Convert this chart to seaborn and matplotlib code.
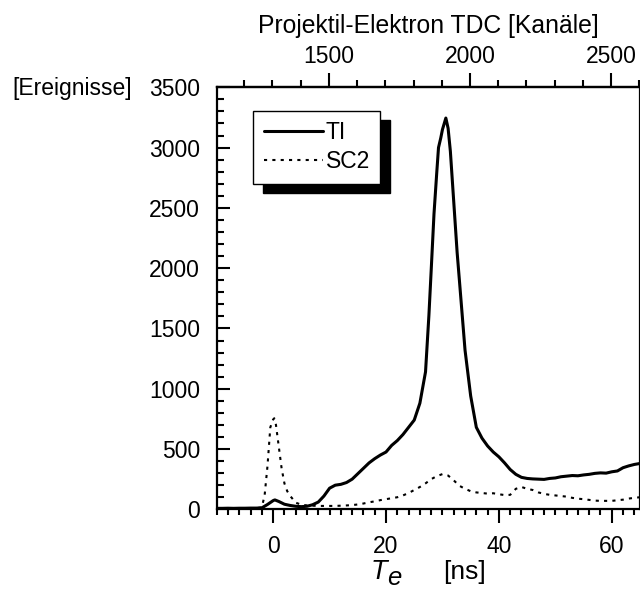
import matplotlib
matplotlib.use("Agg")
import matplotlib.pyplot as plt
from matplotlib.ticker import MultipleLocator, FixedLocator
import seaborn as sns
import pandas as pd

# Elektron-Flugzeitspektren (Ereignisse pro Kanal) gegen T_e in ns
t_ti = [-10, -9, -8, -7, -6, -5, -4, -3, -2, -1, 0, 0.3, 1, 2, 3, 4, 5, 6, 7, 8,
        9, 10, 11, 12, 13, 14, 15, 16, 17, 18, 19, 20, 21, 22, 23, 24, 25, 26,
        27, 27.6, 28, 28.5, 29, 29.3, 29.7, 30, 30.6, 31, 31.4, 32, 32.6, 33,
        33.5, 34, 35, 36, 37, 38, 39, 40, 41, 42, 43, 44, 45, 46, 47, 48, 49,
        50, 51, 52, 53, 54, 55, 56, 57, 58, 59, 60, 61, 62, 63, 64, 65]
n_ti = [8, 8, 9, 8, 9, 9, 10, 10, 12, 40, 72, 78, 65, 42, 32, 25, 22, 25, 38, 60,
        110, 175, 200, 207, 222, 250, 295, 340, 385, 420, 450, 475, 530, 570,
        620, 680, 740, 880, 1140, 1610, 1980, 2450, 2800, 3000, 3080, 3150,
        3245, 3160, 2970, 2550, 2130, 1900, 1610, 1320, 940, 680, 590, 525,
        475, 435, 385, 330, 290, 265, 256, 252, 250, 248, 256, 260, 270, 275,
        280, 278, 285, 290, 298, 302, 300, 311, 318, 345, 360, 372, 380]

t_sc2 = [-10, -9, -8, -7, -6, -5, -4, -3, -2, -1.5, -1, -0.5, 0, 0.2, 0.5, 1,
         1.5, 2, 2.5, 3, 4, 5, 6, 7, 8, 9, 10, 11, 12, 13, 14, 15, 16, 17, 18,
         19, 20, 21, 22, 23, 24, 25, 26, 27, 28, 29, 30, 31, 32, 33, 34, 35, 36,
         37, 38, 39, 40, 41, 42, 43, 44, 45, 46, 47, 48, 49, 50, 51, 52, 53, 54,
         55, 56, 57, 58, 59, 60, 61, 62, 63, 64, 65]
n_sc2 = [8, 8, 9, 8, 9, 9, 10, 10, 15, 120, 360, 680, 745, 755, 700, 520, 340,
         215, 150, 112, 55, 38, 32, 30, 28, 28, 28, 28, 30, 32, 35, 40, 48, 58,
         66, 76, 84, 92, 100, 115, 135, 160, 185, 215, 250, 275, 292, 280, 240,
         195, 170, 150, 140, 135, 130, 133, 125, 118, 120, 170, 185, 170, 160,
         140, 128, 120, 115, 110, 105, 95, 88, 84, 78, 72, 70, 70, 70, 75, 80,
         89, 95, 100]

# Kanalachse oben: Kanal = Offset + Kanäle pro ns * T_e
ch_offset = 1302.5
ch_per_ns = 20.0
top_ticks = [1500, 2000, 2500]
bottom_ticks = [0, 20, 40, 60]
left_ticks = [0, 500, 1000, 1500, 2000, 2500, 3000, 3500]

sns.set_theme(style="ticks")
plt.rcParams["font.family"] = ["Liberation Sans", "DejaVu Sans"]
plt.rcParams.update({
    "axes.linewidth": 1.6,
    "text.color": "black",
    "axes.labelcolor": "black",
    "xtick.color": "black",
    "ytick.color": "black",
    "axes.edgecolor": "black",
})

FS = 16.5
fig = plt.figure(figsize=(6.4, 5.9), dpi=100)
W, H = 640.0, 590.0
ax = fig.add_axes([216.7 / W, 1 - 509.3 / H, (640 - 216.7) / W, (509.3 - 87.3) / H])

df_ti = pd.DataFrame({"T": t_ti, "N": n_ti})
df_sc2 = pd.DataFrame({"T": t_sc2, "N": n_sc2})
sns.lineplot(data=df_ti, x="T", y="N", ax=ax, color="black", linewidth=2.2,
             estimator=None, sort=False, label="TI")
sns.lineplot(data=df_sc2, x="T", y="N", ax=ax, color="black", linewidth=1.5,
             linestyle=(0, (1.5, 2.5)), estimator=None, sort=False, label="SC2")

ax.set_xlim(-10, 65)
ax.set_ylim(0, 3500)
ax.set_xlabel("")
ax.set_ylabel("")

ax.xaxis.set_major_locator(FixedLocator(bottom_ticks))
ax.xaxis.set_minor_locator(MultipleLocator(2))
ax.yaxis.set_major_locator(FixedLocator(left_ticks))
ax.yaxis.set_minor_locator(MultipleLocator(100))

for s in ax.spines.values():
    s.set_color("black")
    s.set_linewidth(1.6)

ax.tick_params(axis="x", which="both", direction="out", bottom=True, top=False,
               width=1.5, colors="black", labelsize=FS, pad=8.5)
ax.tick_params(axis="x", which="major", length=10)
ax.tick_params(axis="x", which="minor", length=4.5)
ax.tick_params(axis="y", which="both", direction="in", left=True, right=False,
               width=1.5, colors="black", labelsize=FS, pad=12)
ax.tick_params(axis="y", which="major", length=9.5)
ax.tick_params(axis="y", which="minor", length=5)

top = ax.secondary_xaxis(
    "top",
    functions=(lambda t: ch_offset + ch_per_ns * t,
               lambda c: (c - ch_offset) / ch_per_ns),
)
top.xaxis.set_major_locator(FixedLocator(top_ticks))
top.xaxis.set_minor_locator(MultipleLocator(100))
top.tick_params(axis="x", which="both", direction="out", width=1.5,
                colors="black", labelsize=FS, pad=4)
top.tick_params(axis="x", which="major", length=10)
top.tick_params(axis="x", which="minor", length=5)
top.spines["top"].set_linewidth(1.6)
top.spines["top"].set_color("black")
top.set_xlabel("Projektil-Elektron TDC [Kanäle]", fontsize=17.8, labelpad=8.5,
               color="black")

leg = ax.legend(loc="upper left", bbox_to_anchor=(0.0865, 0.9445),
                borderaxespad=0, fontsize=FS, frameon=True, fancybox=False,
                handlelength=2.6, handletextpad=0.1, borderpad=0.45,
                labelspacing=0.28,
                shadow={"ox": 7, "oy": -7, "color": "black", "alpha": 1.0})
leg.get_frame().set_edgecolor("black")
leg.get_frame().set_linewidth(1.0)
leg.get_frame().set_facecolor("white")
leg.get_frame().set_alpha(1.0)
for txt in leg.get_texts():
    txt.set_color("black")

fig.text(12 / W, 1 - 88 / H, "[Ereignisse]", fontsize=FS, va="center", ha="left")
fig.text(371 / W, 1 - 579 / H, "T", fontsize=19.5, style="italic", va="baseline", ha="left")
fig.text(387 / W, 1 - 585 / H, "e", fontsize=18.5, style="italic", va="baseline", ha="left")
fig.text(443 / W, 1 - 579 / H, "[ns]", fontsize=19, va="baseline", ha="left")

fig.savefig("out.png", dpi=100)
